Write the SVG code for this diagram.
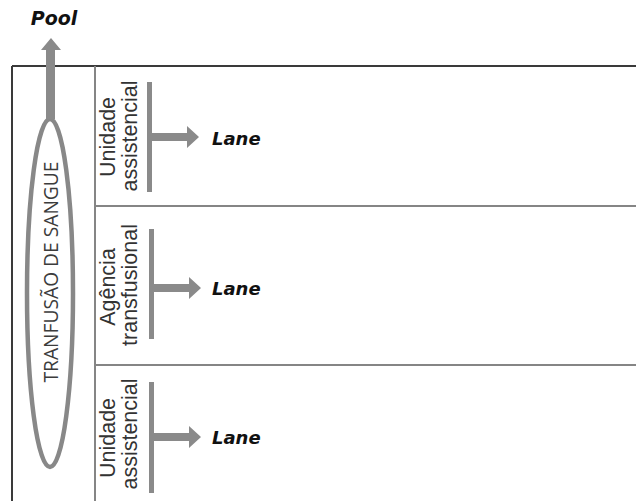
<svg xmlns="http://www.w3.org/2000/svg" width="636" height="501" viewBox="0 0 636 501">
  <style>
    .frame { stroke: #3a3a3a; stroke-width: 2; fill: none; }
    .divider { stroke: #858585; stroke-width: 2; fill: none; }
    .bar { fill: #8a8a8a; }
    .arrow { fill: #8a8a8a; }
    .head { font-family: "DejaVu Sans", Verdana, sans-serif; font-weight: bold; font-style: italic; fill: #111; }
    .role { font-family: "Liberation Sans", Arial, sans-serif; font-size: 21.5px; fill: #333; text-anchor: middle; }
    .pooltitle { font-family: "Open Sans", "Segoe UI", sans-serif; font-size: 20px; fill: #3c3c3c; text-anchor: middle; }
  </style>
  <rect width="636" height="501" fill="#ffffff"/>

  <!-- pool frame and lane separators -->
  <g id="pool-frame">
    <line class="frame" x1="12" y1="66" x2="636" y2="66"/>
    <line class="frame" x1="12" y1="66" x2="12" y2="501"/>
    <line class="divider" x1="95" y1="66" x2="95" y2="501"/>
    <line class="divider" x1="95" y1="206" x2="636" y2="206"/>
    <line class="divider" x1="95" y1="365" x2="636" y2="365"/>
  </g>

  <!-- pool header: ellipse with rotated title and upward arrow -->
  <g id="pool">
    <text class="head" x="54" y="25" font-size="19" text-anchor="middle">Pool</text>
    <ellipse cx="50" cy="293" rx="23" ry="174" fill="none" stroke="#888888" stroke-width="4.5"/>
    <text class="pooltitle" transform="translate(58 272) rotate(-90)" x="0" y="0" textLength="221" lengthAdjust="spacingAndGlyphs">TRANFUSÃO DE SANGUE</text>
  </g>

  <g id="connectors">
    <polygon class="arrow" points="46,119 46,50 41,50 51,38 61,50 55,50 55,119"/>
    <polygon class="arrow" points="151,133 187,133 187,126 199,137 187,148 187,141 151,141"/>
    <polygon class="arrow" points="153,284 189,284 189,277 201,288 189,299 189,292 153,292"/>
    <polygon class="arrow" points="153,433 189,433 189,426 201,437 189,448 189,441 153,441"/>
  </g>

  <g id="lane-1">
    <text class="role" transform="translate(115 137) rotate(-90)">Unidade</text>
    <text class="role" transform="translate(137 136) rotate(-90)">assistencial</text>
    <rect class="bar" x="147" y="82" width="5" height="110"/>
    <text class="head" x="212" y="145" font-size="18">Lane</text>
  </g>

  <g id="lane-2">
    <text class="role" transform="translate(115 287) rotate(-90)">Agência</text>
    <text class="role" transform="translate(137 285) rotate(-90)">transfusional</text>
    <rect class="bar" x="149" y="229" width="5" height="110"/>
    <text class="head" x="212" y="295" font-size="18">Lane</text>
  </g>

  <g id="lane-3">
    <text class="role" transform="translate(115 438) rotate(-90)">Unidade</text>
    <text class="role" transform="translate(137 434) rotate(-90)">assistencial</text>
    <rect class="bar" x="149" y="382" width="5" height="111"/>
    <text class="head" x="212" y="444" font-size="18">Lane</text>
  </g>
</svg>
